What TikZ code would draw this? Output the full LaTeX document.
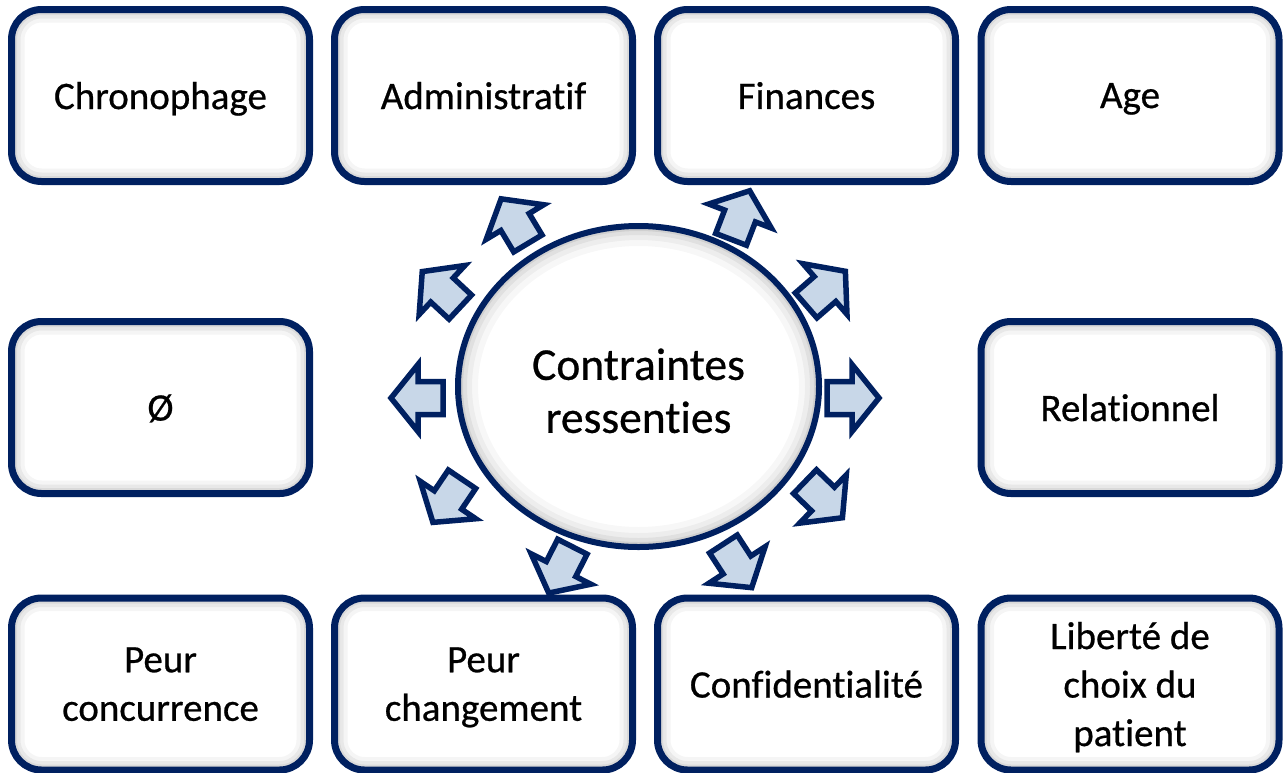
\documentclass[tikz,border=0pt]{standalone}
\usepackage{fontspec}
\setmainfont{Carlito}[Ligatures=NoCommon]
\newfontfamily\boxfont{Carlito}[Ligatures=NoCommon, FakeBold=0.6]
\usetikzlibrary{shapes.geometric}
\definecolor{navy}{RGB}{0,32,96}
\definecolor{arrowfill}{RGB}{200,215,232}
\begin{document}
\begin{tikzpicture}[x=1pt,y=-1pt,
  box/.style={draw=navy, line width=7pt, fill=white, rounded corners=30pt,
    minimum width=298pt, minimum height=172pt, inner sep=0pt, align=center,
    text depth=-3pt,
    font=\boxfont\fontsize{39}{48.5}\selectfont,
    path picture={
      \foreach \ww/\oo in {26/0.04,18/0.05,11/0.06,6/0.08}{
        \draw[line width=\ww pt, black, opacity=\oo, rounded corners=30pt]
          (path picture bounding box.south west) rectangle (path picture bounding box.north east);}
    }},
  hub/.style={ellipse, draw=navy, line width=6pt, fill=white,
    minimum width=361pt, minimum height=321pt, inner sep=0pt, align=center,
    font=\boxfont\fontsize{45.5}{53}\selectfont,
    path picture={
      \foreach \ww/\oo in {40/0.03,28/0.04,18/0.05,10/0.07}{
        \draw[line width=\ww pt, black, opacity=\oo]
          (path picture bounding box.center) ellipse [x radius=180.5pt, y radius=160.5pt];}
    }},
  pics/blockarrow/.style={code={
    \draw[draw=navy, line width=5.5pt, fill=arrowfill, line join=miter]
      (-25,-16.5) -- (0,-16.5) -- (0,-33.5) -- (27,0) -- (0,33.5) -- (0,16.5) -- (-25,16.5) -- cycle;}}
]
\useasboundingbox (0,0) rectangle (1287,772);

% top row
\node[box] (chrono) at (160.5,95.5) {Chronophage};
\node[box] (admin)  at (483.5,95.5) {Administratif};
\node[box] (fin)    at (806.5,95.5) {Finances};
\node[box] (age)    at (1130,95.5)  {Age};
% middle row
\node[box] (vide)   at (160.5,407.5) {Ø};
\node[box] (rel)    at (1130,407.5)  {Relationnel};
% bottom row
\node[box] (pconc)  at (160.5,684) {Peur\\concurrence};
\node[box] (pchg)   at (483.5,684) {Peur\\changement};
\node[box] (conf)   at (806.5,684) {Confidentialité};
\node[box] (lib)    at (1130,684)  {Liberté de\\choix du\\patient};

% centre
\node[hub] (centre) at (638.5,386.5) {\rule{0pt}{40pt}Contraintes\\ressenties};

% arrows
\pic[rotate=180]  at (418,398) {blockarrow};
\pic[rotate=0]    at (852,398) {blockarrow};
\pic[rotate=121]  at (515,222) {blockarrow};
\pic[rotate=137]  at (442,290) {blockarrow};
\pic[rotate=69]   at (740,216) {blockarrow};
\pic[rotate=41]   at (825,289) {blockarrow};
\pic[rotate=-44]  at (823,499) {blockarrow};
\pic[rotate=-57]  at (737,565) {blockarrow};
\pic[rotate=-117] at (561,569) {blockarrow};
\pic[rotate=-124] at (448,500) {blockarrow};
\end{tikzpicture}
\end{document}
